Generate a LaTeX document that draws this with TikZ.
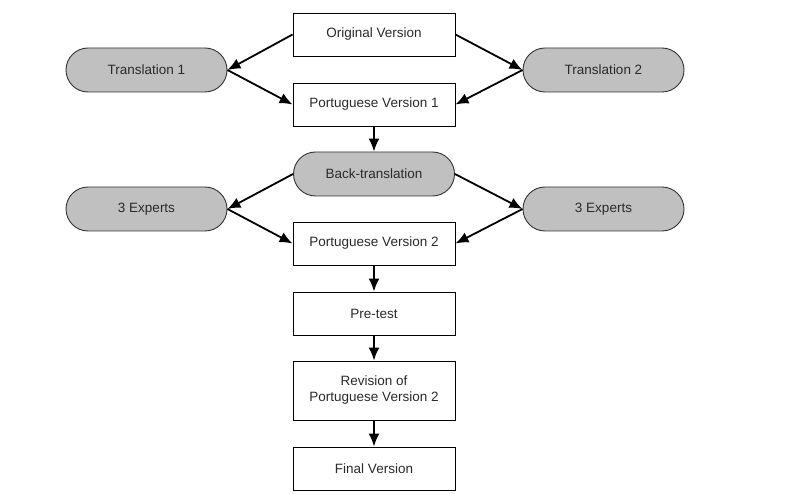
\documentclass[tikz,border=0pt]{standalone}
\usepackage{fontspec}
\setmainfont{Liberation Sans}
\usetikzlibrary{arrows.meta,positioning}
\definecolor{PillGray}{HTML}{C0C0C0}
\definecolor{LabelInk}{HTML}{2A2A2A}
\tikzset{
  stagebox/.style={draw=black,line width=0.9pt,fill=white,minimum width=162pt,
    minimum height=43pt,align=center,text=LabelInk,
    font=\fontsize{13.5}{16}\selectfont,inner sep=2pt},
  pillbox/.style={draw=black!80,line width=0.9pt,fill=PillGray,minimum width=161pt,
    minimum height=44pt,rounded corners=22pt,text=LabelInk,
    font=\fontsize{13.5}{16}\selectfont},
  flowarrow/.style={line width=1.8pt,-{Latex[length=13pt,width=11pt]}}
}
\begin{document}
\begin{tikzpicture}[x=1pt,y=-1pt]
  \useasboundingbox (0,0) rectangle (795,494);
  % main column
  \node[stagebox] (orig) at (374,34.5) {Original Version};
  \node[stagebox] (pv1) at (374,104.5) {Portuguese Version 1};
  \node[pillbox] (back) at (374,174) {Back-translation};
  \node[stagebox] (pv2) at (374,243.5) {Portuguese Version 2};
  \node[stagebox] (pretest) at (374,313.5) {Pre-test};
  \node[stagebox,minimum height=59pt] (rev) at (374,390.5) {Revision of\\Portuguese Version 2};
  \node[stagebox] (final) at (374,468.5) {Final Version};
  % side pills
  \node[pillbox] (trans1) at (146.5,70) {Translation 1};
  \node[pillbox] (trans2) at (603.5,70) {Translation 2};
  \node[pillbox] (expL) at (146.5,209) {3 Experts};
  \node[pillbox] (expR) at (603.5,209) {3 Experts};
  % connectors
  \draw[flowarrow] (orig.west) -- (trans1.east);
  \draw[flowarrow] (orig.east) -- (trans2.west);
  \draw[flowarrow] (trans1.east) -- (pv1.west);
  \draw[flowarrow] (trans2.west) -- (pv1.east);
  \draw[flowarrow] (pv1) -- (back);
  \draw[flowarrow] (back.west) -- (expL.east);
  \draw[flowarrow] (back.east) -- (expR.west);
  \draw[flowarrow] (expL.east) -- (pv2.west);
  \draw[flowarrow] (expR.west) -- (pv2.east);
  \draw[flowarrow] (pv2) -- (pretest);
  \draw[flowarrow] (pretest) -- (rev);
  \draw[flowarrow] (rev) -- (final);
\end{tikzpicture}
\end{document}
